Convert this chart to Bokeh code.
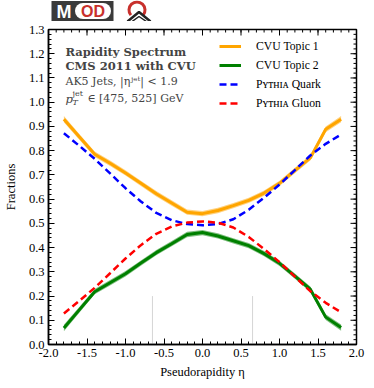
import math
from bokeh.plotting import figure
from bokeh.models import (FixedTicker, NumeralTickFormatter, Label, Legend,
                          LegendItem, ColumnDataSource, Range1d)
from bokeh.layouts import column
from bokeh.embed import file_html
from bokeh.resources import INLINE

# ---------------- data ----------------
eta = [-1.8, -1.6, -1.4, -1.2, -1.0, -0.8, -0.6, -0.4, -0.2, 0.0,
       0.2, 0.4, 0.6, 0.8, 1.0, 1.2, 1.4, 1.6, 1.8]
topic1 = [0.930, 0.857, 0.785, 0.748, 0.708, 0.665, 0.622, 0.584, 0.546, 0.540,
          0.553, 0.573, 0.595, 0.625, 0.665, 0.718, 0.770, 0.888, 0.930]
topic1_err = [0.013, 0.012, 0.011, 0.011, 0.011, 0.011, 0.011, 0.011, 0.011, 0.011,
              0.011, 0.011, 0.011, 0.011, 0.011, 0.011, 0.011, 0.012, 0.013]
topic2 = [0.068, 0.143, 0.218, 0.255, 0.292, 0.336, 0.379, 0.416, 0.454, 0.462,
          0.448, 0.428, 0.408, 0.375, 0.335, 0.282, 0.228, 0.113, 0.070]
topic2_err = [0.013, 0.012, 0.011, 0.011, 0.011, 0.011, 0.011, 0.011, 0.011, 0.011,
              0.011, 0.011, 0.011, 0.011, 0.011, 0.011, 0.011, 0.012, 0.013]
quark = [0.872, 0.820, 0.766, 0.706, 0.645, 0.590, 0.543, 0.513, 0.497, 0.492,
         0.497, 0.517, 0.556, 0.606, 0.660, 0.720, 0.780, 0.828, 0.867]
gluon = [0.128, 0.180, 0.234, 0.294, 0.355, 0.410, 0.457, 0.487, 0.503, 0.508,
         0.503, 0.483, 0.444, 0.394, 0.340, 0.280, 0.220, 0.172, 0.133]

vline_x = [-0.65, 0.65]
vline_y0 = [0.0, 0.0]
vline_y1 = [0.2, 0.2]

x_ticks = [-2.0, -1.5, -1.0, -0.5, 0.0, 0.5, 1.0, 1.5, 2.0]
y_ticks = [0.0, 0.1, 0.2, 0.3, 0.4, 0.5, 0.6, 0.7, 0.8, 0.9, 1.0, 1.1, 1.2, 1.3]
x_minor = [round(-2.0 + 0.1 * i, 2) for i in range(41)]
y_minor = [round(0.02 * i, 2) for i in range(66)]

legend_labels = ["CVU Topic 1", "CVU Topic 2", "P\u028f\u1d1b\u029c\u026a\u1d00 Quark",
                 "P\u028f\u1d1b\u029c\u026a\u1d00 Gluon"]

FONT = "Liberation Serif"
TFONT = "DejaVu Serif"
XMIN, XMAX, YMIN, YMAX = -2.0, 2.0, 0.0, 1.3

src = ColumnDataSource(dict(
    eta=eta, t1=topic1,
    t1lo=[a - b for a, b in zip(topic1, topic1_err)],
    t1hi=[a + b for a, b in zip(topic1, topic1_err)],
    t2=topic2,
    t2lo=[a - b for a, b in zip(topic2, topic2_err)],
    t2hi=[a + b for a, b in zip(topic2, topic2_err)],
    q=quark, g=gluon))

# ---------------- logo (page pixel coordinates, y downwards) ----------------
logo = figure(frame_width=308, frame_height=21, x_range=Range1d(47, 355), y_range=Range1d(21, 0),
              output_backend="svg", toolbar_location=None,
              min_border_left=47, min_border_right=19, min_border_top=0, min_border_bottom=0,
              x_axis_location=None, y_axis_location=None)
logo.grid.visible = False
logo.outline_line_color = None
logo.background_fill_color = "white"
logo.border_fill_color = "white"
DARK = "#3a3a3a"
LRED = "#c8302c"
logo.quad(left=[50], right=[112], top=[0.5], bottom=[20.5], fill_color=DARK, line_color=None)
logo.quad(left=[81.5], right=[101.5], top=[2.5], bottom=[18.5], fill_color="white", line_color=None)
logo.circle(x=[81.5, 101.5], y=[10.5, 10.5], radius=8, fill_color="white", line_color=None)
logo.add_layout(Label(x=62.5, y=11, text="M", text_color="white", text_font_size="18px",
                      text_font_style="bold", text_align="center", text_baseline="middle",
                      text_font="Liberation Sans"))
logo.add_layout(Label(x=91.5, y=11, text="OD", text_color=LRED, text_font_size="16px",
                      text_font_style="bold", text_align="center", text_baseline="middle",
                      text_font="Liberation Sans"))
logo.arc(x=[135.5], y=[9.5], radius=8, start_angle=-0.7, end_angle=math.pi + 0.7,
         line_color=LRED, line_width=3)
logo.line(x=[126, 137.5, 149], y=[21, 11.5, 21], line_color="#222222", line_width=2.5)
logo.line(x=[130.5, 137.5, 145], y=[21, 16, 21], line_color="#222222", line_width=1.5)

# ---------------- main plot ----------------
p = figure(frame_width=308, frame_height=315, x_range=Range1d(XMIN, XMAX),
           y_range=Range1d(YMIN, YMAX), output_backend="svg", toolbar_location=None,
           min_border_left=47, min_border_right=19, min_border_top=8, min_border_bottom=44)
p.grid.visible = False
p.background_fill_color = "white"
p.border_fill_color = "white"
p.outline_line_color = "black"
p.outline_line_width = 1.5

for ax, ticks, minor in ((p.xaxis[0], x_ticks, x_minor), (p.yaxis[0], y_ticks, y_minor)):
    ax.ticker = FixedTicker(ticks=ticks, minor_ticks=minor)
    ax.formatter = NumeralTickFormatter(format="0.0")
    ax.major_tick_in = 6
    ax.major_tick_out = 0
    ax.minor_tick_in = 3
    ax.minor_tick_out = 0
    ax.major_tick_line_color = "black"
    ax.minor_tick_line_color = "black"
    ax.axis_line_color = "black"
    ax.axis_line_width = 1.5
    ax.major_label_text_font = FONT
    ax.major_label_text_font_size = "12.5px"
    ax.major_label_text_color = "black"
    ax.axis_label_text_font = FONT
    ax.axis_label_text_font_size = "12.5px"
    ax.axis_label_text_font_style = "normal"
    ax.axis_label_text_color = "black"
    ax.major_label_standoff = 4

p.xaxis[0].axis_label = "Pseudorapidity \u03b7"
p.yaxis[0].axis_label = "Fractions"
p.xaxis[0].axis_label_standoff = 5
p.yaxis[0].axis_label_standoff = 8

# mirrored inward ticks on top and right edges (dash markers centred on the frame edge)
p.scatter(x=x_ticks, y=[YMAX] * len(x_ticks), marker="dash", size=12, angle=math.pi / 2,
          line_color="black", line_width=1)
p.scatter(x=x_minor, y=[YMAX] * len(x_minor), marker="dash", size=6, angle=math.pi / 2,
          line_color="black", line_width=1)
p.scatter(x=[XMAX] * len(y_ticks), y=y_ticks, marker="dash", size=12,
          line_color="black", line_width=1)
p.scatter(x=[XMAX] * len(y_minor), y=y_minor, marker="dash", size=6,
          line_color="black", line_width=1)

# bands + lines
p.varea(x="eta", y1="t1lo", y2="t1hi", source=src, fill_color="orange", fill_alpha=0.5)
p.varea(x="eta", y1="t2lo", y2="t2hi", source=src, fill_color="green", fill_alpha=0.5)
r1 = p.line(x="eta", y="t1", source=src, line_color="orange", line_width=3)
r2 = p.line(x="eta", y="t2", source=src, line_color="green", line_width=3)
r3 = p.line(x="eta", y="q", source=src, line_color="blue", line_width=2.5, line_dash="7 4")
r4 = p.line(x="eta", y="g", source=src, line_color="red", line_width=2.5, line_dash="7 4")

p.segment(x0=vline_x, y0=vline_y0, x1=vline_x, y1=vline_y1, line_color="#aaaaaa",
          line_width=1, line_dash="1 1")

legend = Legend(items=[LegendItem(label=l, renderers=[r]) for l, r in
                       zip(legend_labels, [r1, r2, r3, r4])],
                location=(171, 234))
legend.border_line_color = None
legend.background_fill_alpha = 0
legend.label_text_font = FONT
legend.label_text_font_size = "11.7px"
legend.label_text_color = "black"
legend.glyph_width = 22
legend.glyph_height = 14
legend.label_height = 14
legend.label_standoff = 15
legend.spacing = 5
legend.padding = 4
legend.margin = 0
p.add_layout(legend)

# text annotations
tx = -1.78
p.add_layout(Label(x=tx, y=1.209, text="Rapidity Spectrum", text_font=TFONT,
                   text_font_size="11.5px", text_font_style="bold", text_baseline="middle"))
p.add_layout(Label(x=tx, y=1.151, text="CMS 2011 with CVU", text_font=TFONT,
                   text_font_size="11.5px", text_font_style="bold", text_baseline="middle"))
p.add_layout(Label(x=tx, y=1.085, text="AK5 Jets, |\u03b7\u02b2\u1d49\u1d57| < 1.9", text_font=TFONT,
                   text_font_size="11px", text_baseline="middle"))
p.add_layout(Label(x=tx, y=1.015, text="p", text_font=TFONT, text_font_size="11.5px",
                   text_font_style="italic", text_baseline="middle"))
p.add_layout(Label(x=tx, y=1.015, x_offset=7, y_offset=5, text="jet", text_font=TFONT,
                   text_font_size="8px", text_baseline="middle"))
p.add_layout(Label(x=tx, y=1.015, x_offset=7, y_offset=-4, text="T", text_font=TFONT,
                   text_font_size="8px", text_font_style="italic", text_baseline="middle"))
p.add_layout(Label(x=tx, y=1.015, x_offset=22, text="\u2208 [475, 525] GeV", text_font=TFONT,
                   text_font_size="11px", text_baseline="middle"))

layout = column(logo, p, spacing=0)
open("out.html", "w").write(file_html(layout, INLINE))
